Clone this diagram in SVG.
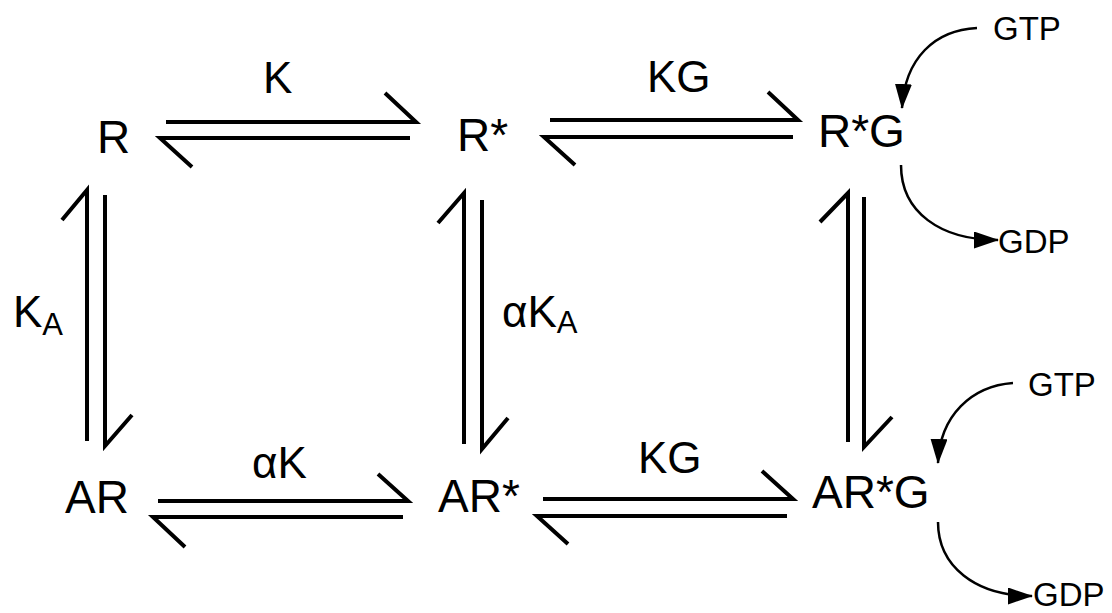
<svg xmlns="http://www.w3.org/2000/svg" width="1112" height="613" viewBox="0 0 1112 613">
<style>
text{font-family:"Liberation Sans",Arial,sans-serif;fill:#000}
.node{font-size:46px}
.lbl{font-size:44px}
.sub{font-size:31px}
.g{font-size:33px}
.eq{stroke:#000;stroke-width:4;fill:none;stroke-linecap:butt;stroke-linejoin:miter}
.cv{stroke:#000;stroke-width:2.5;fill:none}
</style>
<defs>
<marker id="ah" markerUnits="userSpaceOnUse" markerWidth="26" markerHeight="18" refX="24" refY="8.5" orient="auto" viewBox="0 0 26 18">
<path d="M0,0 L25,8.5 L0,17 Z" fill="#000"/>
</marker>
</defs>
<rect width="1112" height="613" fill="#fff"/>
<g id="connectors">
<!-- R <-> R* -->
<path class="eq" d="M166,122 H416 L385,93"/>
<path class="eq" d="M410,138 H160 L192,167"/>
<!-- R* <-> R*G -->
<path class="eq" d="M550,120 H798 L768,92"/>
<path class="eq" d="M793,137 H544 L575,165"/>
<!-- AR <-> AR* -->
<path class="eq" d="M158,501 H408 L378,474"/>
<path class="eq" d="M403,517 H153 L185,547"/>
<!-- AR* <-> AR*G -->
<path class="eq" d="M543,499 H793 L762,471"/>
<path class="eq" d="M787,516 H537 L568,544"/>
<!-- R <-> AR -->
<path class="eq" d="M87,441 V190 L62,220"/>
<path class="eq" d="M105,195 V446 L132,415"/>
<!-- R* <-> AR* -->
<path class="eq" d="M464,444 V193 L438,223"/>
<path class="eq" d="M482,200 V449 L508,418"/>
<!-- R*G <-> AR*G -->
<path class="eq" d="M848,442 V193 L820,222"/>
<path class="eq" d="M864,197 V447 L892,417"/>
<!-- GTP / GDP curves -->
<path class="cv" d="M977,28 C935,30 905,58 902,108" marker-end="url(#ah)"/>
<path class="cv" d="M901,165 C901,212 940,240 998,240" marker-end="url(#ah)"/>
<path class="cv" d="M1013,383 C972,386 940,415 938,463" marker-end="url(#ah)"/>
<path class="cv" d="M938,522 C938,566 975,596 1032,596" marker-end="url(#ah)"/>
<!-- labels -->
<text class="lbl" x="263" y="93">K</text>
<text class="lbl" x="647" y="92">KG</text>
<text class="lbl" x="252" y="478">αK</text>
<text class="lbl" x="638" y="473">KG</text>
<text class="lbl" x="13" y="327">K<tspan class="sub" dy="8">A</tspan></text>
<text class="lbl" x="502" y="327">αK<tspan class="sub" dy="6">A</tspan></text>
</g>
<g id="node-R"><text class="node" x="97" y="153">R</text></g>
<g id="node-Rstar"><text class="node" x="457" y="151">R*</text></g>
<g id="node-RstarG"><text class="node" x="818" y="147">R*G</text></g>
<g id="node-AR"><text class="node" x="65" y="513">AR</text></g>
<g id="node-ARstar"><text class="node" x="438" y="512">AR*</text></g>
<g id="node-ARstarG"><text class="node" x="812" y="508">AR*G</text></g>
<g id="node-GTP1"><text class="g" x="993" y="40">GTP</text></g>
<g id="node-GDP1"><text class="g" x="998" y="253">GDP</text></g>
<g id="node-GTP2"><text class="g" x="1028" y="396">GTP</text></g>
<g id="node-GDP2"><text class="g" x="1033" y="606">GDP</text></g>
</svg>
